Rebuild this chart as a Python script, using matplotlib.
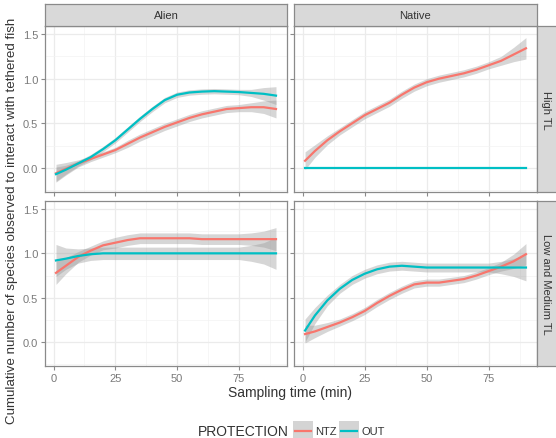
import numpy as np
import matplotlib
matplotlib.use("Agg")
import matplotlib.pyplot as plt
from matplotlib.lines import Line2D
from matplotlib.patches import Rectangle

plt.rcParams["font.family"] = ["Liberation Sans", "DejaVu Sans"]

# sampling times (min)
time = [1, 5, 10, 15, 20, 25, 30, 35, 40, 45, 50, 55, 60, 65, 70, 75, 80, 85, 90]

origins = ["Alien", "Native"]
levels = ["High TL", "Low and Medium TL"]
protection = ["NTZ", "OUT"]

# smoothed fits and half-widths of the confidence bands
alien_high_ntz = [-0.06, -0.01, 0.05, 0.10, 0.15, 0.20, 0.27, 0.34, 0.40, 0.46, 0.51, 0.56, 0.60, 0.63, 0.66, 0.67, 0.68, 0.68, 0.66]
alien_high_ntz_se = [0.10, 0.07, 0.04, 0.03, 0.03, 0.03, 0.04, 0.04, 0.04, 0.04, 0.04, 0.04, 0.04, 0.04, 0.04, 0.04, 0.05, 0.07, 0.10]
alien_high_out = [-0.07, -0.02, 0.05, 0.12, 0.21, 0.31, 0.43, 0.55, 0.66, 0.76, 0.82, 0.845, 0.855, 0.86, 0.855, 0.85, 0.84, 0.83, 0.81]
alien_high_out_se = [0.08, 0.05, 0.03, 0.03, 0.03, 0.03, 0.03, 0.03, 0.03, 0.03, 0.03, 0.03, 0.03, 0.03, 0.03, 0.03, 0.04, 0.07, 0.10]

native_high_ntz = [0.08, 0.19, 0.31, 0.41, 0.50, 0.59, 0.66, 0.73, 0.82, 0.90, 0.96, 1.00, 1.03, 1.06, 1.10, 1.15, 1.20, 1.27, 1.34]
native_high_ntz_se = [0.10, 0.07, 0.05, 0.04, 0.04, 0.04, 0.04, 0.04, 0.04, 0.04, 0.04, 0.04, 0.04, 0.04, 0.04, 0.04, 0.05, 0.08, 0.12]
native_high_out = [0.0] * 19
native_high_out_se = [0.0] * 19

alien_low_ntz = [0.78, 0.86, 0.96, 1.03, 1.09, 1.12, 1.15, 1.17, 1.17, 1.17, 1.17, 1.17, 1.16, 1.16, 1.16, 1.16, 1.16, 1.16, 1.16]
alien_low_ntz_se = [0.13, 0.09, 0.06, 0.05, 0.05, 0.06, 0.06, 0.06, 0.06, 0.06, 0.06, 0.06, 0.06, 0.06, 0.06, 0.06, 0.07, 0.09, 0.13]
alien_low_out = [0.92, 0.94, 0.97, 0.99, 1.00, 1.00, 1.00, 1.00, 1.00, 1.00, 1.00, 1.00, 1.00, 1.00, 1.00, 1.00, 1.00, 1.00, 1.00]
alien_low_out_se = [0.18, 0.12, 0.08, 0.07, 0.07, 0.07, 0.07, 0.07, 0.07, 0.07, 0.07, 0.07, 0.07, 0.07, 0.07, 0.07, 0.09, 0.12, 0.18]

native_low_ntz = [0.09, 0.12, 0.17, 0.22, 0.28, 0.35, 0.44, 0.52, 0.59, 0.65, 0.67, 0.67, 0.69, 0.71, 0.75, 0.80, 0.85, 0.91, 0.99]
native_low_ntz_se = [0.10, 0.07, 0.05, 0.04, 0.04, 0.04, 0.04, 0.04, 0.04, 0.04, 0.04, 0.04, 0.04, 0.04, 0.04, 0.04, 0.05, 0.08, 0.12]
native_low_out = [0.13, 0.30, 0.47, 0.60, 0.70, 0.77, 0.82, 0.85, 0.86, 0.85, 0.84, 0.84, 0.84, 0.84, 0.84, 0.84, 0.84, 0.84, 0.84]
native_low_out_se = [0.13, 0.09, 0.06, 0.05, 0.05, 0.05, 0.05, 0.05, 0.05, 0.05, 0.05, 0.05, 0.05, 0.05, 0.05, 0.05, 0.07, 0.10, 0.15]

panels = {
    (0, 0): [(alien_high_ntz, alien_high_ntz_se), (alien_high_out, alien_high_out_se)],
    (0, 1): [(native_high_ntz, native_high_ntz_se), (native_high_out, native_high_out_se)],
    (1, 0): [(alien_low_ntz, alien_low_ntz_se), (alien_low_out, alien_low_out_se)],
    (1, 1): [(native_low_ntz, native_low_ntz_se), (native_low_out, native_low_out_se)],
}

colors = ["#F8766D", "#00BFC4"]
border = "#8a8a8a"
strip_fill = "#D9D9D9"
tick_col = "#7a7a7a"

W, H = 556, 439
fig = plt.figure(figsize=(W / 100, H / 100), dpi=100)

def box(x0, y0, x1, y1):
    # pixel box (top-left origin) -> figure fraction
    return [x0 / W, 1 - y1 / H, (x1 - x0) / W, (y1 - y0) / H]

col_x = [(45, 287), (294, 537)]
row_y = [(27, 193), (202, 367)]

t = np.array(time)
for (r, c), series in panels.items():
    ax = fig.add_axes(box(col_x[c][0], row_y[r][0], col_x[c][1], row_y[r][1]))
    ax.set_xlim(-3.45, 94.45)
    ax.set_ylim(-0.27, 1.59)
    ax.set_xticks([0, 25, 50, 75])
    ax.set_yticks([0.0, 0.5, 1.0, 1.5])
    ax.set_xticks([12.5, 37.5, 62.5, 87.5], minor=True)
    ax.set_yticks([-0.25, 0.25, 0.75, 1.25], minor=True)
    ax.grid(True, which="major", color="#EBEBEB", lw=0.9)
    ax.grid(True, which="minor", color="#F3F3F3", lw=0.5)
    ax.set_axisbelow(True)
    for sp in ax.spines.values():
        sp.set_color(border)
        sp.set_linewidth(0.9)
    ax.tick_params(which="major", length=3, color=border, labelsize=8, labelcolor=tick_col, pad=2)
    ax.tick_params(which="minor", length=0)
    ax.tick_params(axis="x", labelbottom=(r == 1))
    ax.tick_params(axis="y", labelleft=(c == 0))
    ax.yaxis.set_major_formatter(matplotlib.ticker.FormatStrFormatter("%.1f"))
    for (fit, se), col in zip(series, colors):
        fit = np.array(fit)
        se = np.array(se)
        ax.fill_between(t, fit - se, fit + se, color="#999999", alpha=0.4, lw=0, zorder=2)
    for (fit, se), col in zip(series, colors):
        ax.plot(t, fit, color=col, lw=1.6, zorder=3)

# column strips
for c, name in enumerate(origins):
    sax = fig.add_axes(box(col_x[c][0], 5, col_x[c][1], 27))
    sax.set_xticks([]); sax.set_yticks([])
    sax.set_facecolor(strip_fill)
    for sp in sax.spines.values():
        sp.set_color(border); sp.set_linewidth(0.9)
    sax.text(0.5, 0.5, name, ha="center", va="center", fontsize=8, color="#333333", transform=sax.transAxes)

# row strips
for r, name in enumerate(levels):
    sax = fig.add_axes(box(537, row_y[r][0], 558, row_y[r][1]))
    sax.set_xticks([]); sax.set_yticks([])
    sax.set_facecolor(strip_fill)
    for sp in sax.spines.values():
        sp.set_color(border); sp.set_linewidth(0.9)
    sax.text(0.45, 0.5, name, ha="center", va="center", rotation=-90, fontsize=8, color="#333333", transform=sax.transAxes)

fig.text(12 / W, 1 - 221 / H, "Cumulative number of species observed to interact with tethered fish",
         rotation=90, ha="center", va="center", fontsize=9.6, color="#333333")
fig.text(290 / W, 1 - 393 / H, "Sampling time (min)", ha="center", va="center", fontsize=10, color="#333333")

# legend
ly = 1 - 432 / H
fig.text(198 / W, ly, "PROTECTION", ha="left", va="center", fontsize=10, color="#333333")
for i, (lab, col) in enumerate(zip(protection, colors)):
    x0 = 293 + i * 46
    fig.patches.append(Rectangle((x0 / W, 1 - 442 / H), 20 / W, 20 / H, transform=fig.transFigure,
                                 facecolor="#D4D4D4", edgecolor="none"))
    fig.lines.append(Line2D([(x0 + 2) / W, (x0 + 18) / W], [ly, ly], transform=fig.transFigure, color=col, lw=1.6))
    fig.text((x0 + 22) / W, ly, lab, ha="left", va="center", fontsize=8, color="#333333")

fig.savefig("out.png", dpi=100)
